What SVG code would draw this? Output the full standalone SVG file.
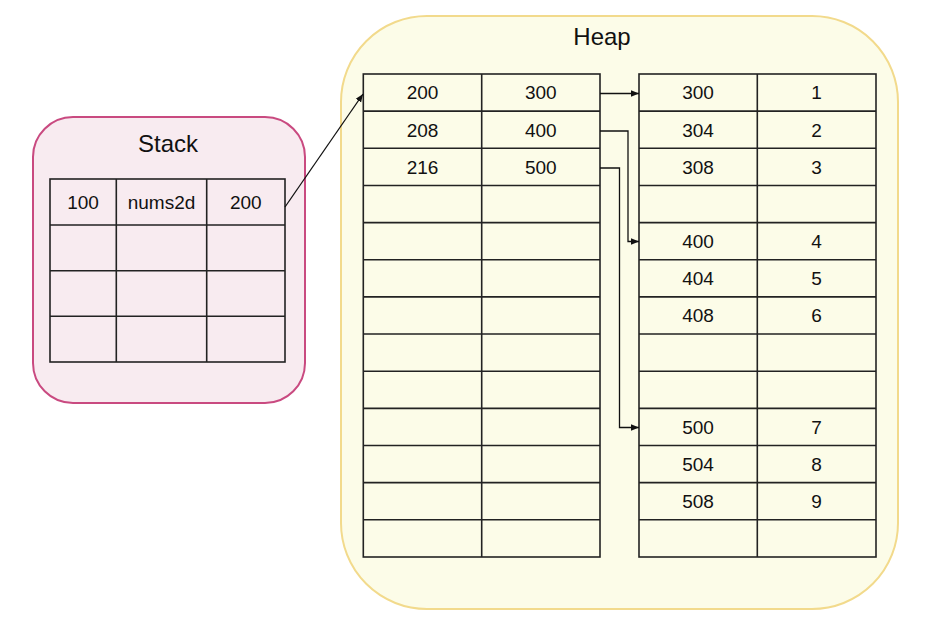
<svg xmlns="http://www.w3.org/2000/svg" width="938" height="624" viewBox="0 0 938 624">
<defs>
<style>
.t{font-family:"Liberation Sans",Arial,sans-serif;font-size:19px;fill:#111;text-anchor:middle}
.title{font-family:"Liberation Sans",Arial,sans-serif;font-size:24px;fill:#111;text-anchor:middle}
.grid{fill:none;stroke:#222;stroke-width:1.6}
.conn{fill:none;stroke:#111;stroke-width:1.3}
</style>
<marker id="arr" viewBox="0 0 10 10" refX="10" refY="5" markerWidth="8" markerHeight="8" markerUnits="userSpaceOnUse" orient="auto">
<path d="M0,1 L10,5 L0,9 Z" fill="#111"/>
</marker>
</defs>
<rect width="938" height="624" fill="#fff"/>

<g id="heap">
<rect x="341" y="16" width="557" height="593" rx="86" ry="86" fill="#fcfce8" stroke="#f2da8c" stroke-width="2"/>
<text class="title" x="602" y="45">Heap</text>
</g>

<g id="stack">
<rect x="33" y="117" width="272" height="286" rx="40" ry="40" fill="#f8ebf0" stroke="#c94a80" stroke-width="2"/>
<text class="title" x="168" y="152">Stack</text>
</g>

<g id="stack-table">
<rect class="grid" x="50" y="179" width="235" height="183"/>
<path class="grid" d="M50,225H285M50,270.7H285M50,316.3H285M116.3,179V362M206.7,179V362"/>
<text class="t" x="83" y="209">100</text>
<text class="t" x="161.5" y="209">nums2d</text>
<text class="t" x="245.8" y="209">200</text>
</g>

<g id="heap-table-1">
<rect class="grid" x="363.3" y="74" width="236.7" height="483"/>
<path class="grid" d="M363.3,111.15H600M363.3,148.3H600M363.3,185.45H600M363.3,222.6H600M363.3,259.75H600M363.3,296.9H600M363.3,334.05H600M363.3,371.2H600M363.3,408.35H600M363.3,445.5H600M363.3,482.65H600M363.3,519.8H600M481.7,74V557"/>
<text class="t" x="422.5" y="99.4">200</text>
<text class="t" x="540.8" y="99.4">300</text>
<text class="t" x="422.5" y="136.5">208</text>
<text class="t" x="540.8" y="136.5">400</text>
<text class="t" x="422.5" y="173.7">216</text>
<text class="t" x="540.8" y="173.7">500</text>
</g>

<g id="heap-table-2">
<rect class="grid" x="639" y="74" width="237" height="483"/>
<path class="grid" d="M639,111.15H876M639,148.3H876M639,185.45H876M639,222.6H876M639,259.75H876M639,296.9H876M639,334.05H876M639,371.2H876M639,408.35H876M639,445.5H876M639,482.65H876M639,519.8H876M757.3,74V557"/>
<text class="t" x="698" y="99.4">300</text>
<text class="t" x="816.6" y="99.4">1</text>
<text class="t" x="698" y="136.5">304</text>
<text class="t" x="816.6" y="136.5">2</text>
<text class="t" x="698" y="173.7">308</text>
<text class="t" x="816.6" y="173.7">3</text>
<text class="t" x="698" y="248">400</text>
<text class="t" x="816.6" y="248">4</text>
<text class="t" x="698" y="285.1">404</text>
<text class="t" x="816.6" y="285.1">5</text>
<text class="t" x="698" y="322.3">408</text>
<text class="t" x="816.6" y="322.3">6</text>
<text class="t" x="698" y="433.7">500</text>
<text class="t" x="816.6" y="433.7">7</text>
<text class="t" x="698" y="470.9">504</text>
<text class="t" x="816.6" y="470.9">8</text>
<text class="t" x="698" y="508">508</text>
<text class="t" x="816.6" y="508">9</text>
</g>

<g id="connectors">
<path class="conn" d="M285,207L363,94" marker-end="url(#arr)"/>
<path class="conn" d="M600,93.5H639" marker-end="url(#arr)"/>
<path class="conn" d="M600,131H628V241.5H639" marker-end="url(#arr)"/>
<path class="conn" d="M600,168H619.5V427.5H639" marker-end="url(#arr)"/>
</g>
</svg>
